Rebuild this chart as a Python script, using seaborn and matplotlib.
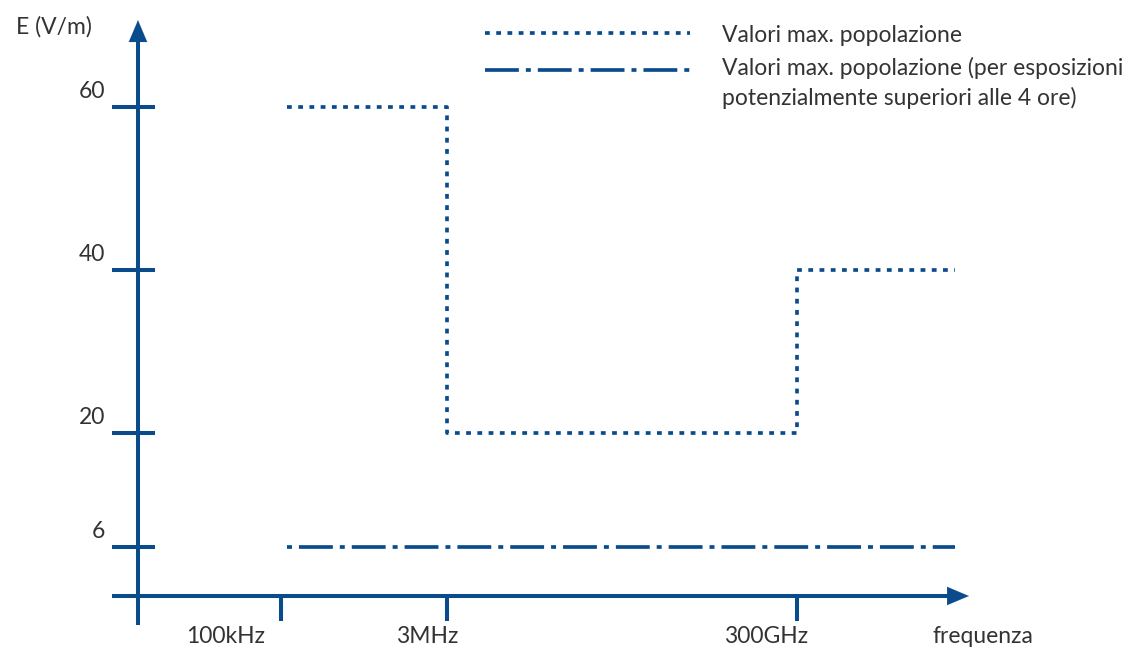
import numpy as np
import pandas as pd
import matplotlib
matplotlib.use("Agg")
import matplotlib.pyplot as plt
import seaborn as sns

# dati
freq_labels = ["100kHz", "3MHz", "300GHz"]
freq_pos = [1.0, 2.161, 4.608]          # posizioni sull'asse (scala non lineare)
x_start, x_end = 1.04, 5.713
y_ticks = [60, 40, 20, 6]

pop_x = [x_start, freq_pos[1], freq_pos[1], freq_pos[2], freq_pos[2], x_end]
pop_y = [60, 60, 20, 20, 40, 40]
lungo_x = [x_start, x_end]
lungo_y = [6, 6]

label_pop = "Valori max. popolazione"
label_lungo = "Valori max. popolazione (per esposizioni\npotenzialmente superiori alle 4 ore)"

blu = "#0a4b8c"
grigio = "#333333"
fs = 16.5

sns.set_theme(style="white")
plt.rcParams['font.family'] = ['Lato', 'DejaVu Sans']

fig = plt.figure(figsize=(11.33, 6.51), dpi=100)
ax = fig.add_axes([0, 0, 1, 1])
ax.set_xlim(-0.965, 6.958)
ax.set_ylim(-6.75, 73.13)
ax.axis('off')

# assi con frecce
ax.plot([-0.18, 5.75], [0, 0], color=blu, lw=2.9, solid_capstyle='butt')
ax.plot([0, 0], [-3.55, 69.5], color=blu, lw=2.9, solid_capstyle='butt')
ax.annotate('', xy=(5.83, 0), xytext=(5.6, 0),
            arrowprops=dict(arrowstyle='-|>,head_length=1.3,head_width=0.55', color=blu, lw=0.1))
ax.annotate('', xy=(0, 71.0), xytext=(0, 68.0),
            arrowprops=dict(arrowstyle='-|>,head_length=1.3,head_width=0.55', color=blu, lw=0.1))

# tacche
for v in y_ticks:
    ax.plot([-0.18, 0.12], [v, v], color=blu, lw=2.9, solid_capstyle='butt')
    ax.text(-0.23, v + 1.95, str(v), ha='right', va='center', fontsize=fs, color=grigio)
for p in freq_pos:
    ax.plot([p, p], [0, -3.1], color=blu, lw=2.9, solid_capstyle='butt')

label_dx = [-0.385, -0.14, -0.215]
for p, lab, dx in zip(freq_pos, freq_labels, label_dx):
    ax.text(p + dx, -4.95, lab, ha='center', va='center', fontsize=fs, color=grigio)
ax.text(5.91, -4.95, "frequenza", ha='center', va='center', fontsize=fs, color=grigio)
ax.text(-0.587, 69.8, "E (V/m)", ha='center', va='center', fontsize=fs, color=grigio)

# serie
dotted = (0, (1.3, 1.75))
dashdot = (0, (9.2, 1.9, 1.35, 1.9))
dashdot_dot_first = (11.1, (9.2, 1.9, 1.35, 1.9))
sns.lineplot(x=pop_x, y=pop_y, sort=False, estimator=None, ax=ax,
             color=blu, lw=2.65, linestyle=dotted)
sns.lineplot(x=lungo_x, y=lungo_y, sort=False, estimator=None, ax=ax,
             color=blu, lw=2.65, linestyle=dashdot_dot_first)

# legenda disegnata a mano
ax.plot([0.428, 0.609], [0.9493, 0.9493], transform=ax.transAxes,
        color=blu, lw=2.65, linestyle=dotted)
ax.plot([0.428, 0.609], [0.8925, 0.8925], transform=ax.transAxes,
        color=blu, lw=2.65, linestyle=dashdot)
ax.text(0.637, 0.945, label_pop, transform=ax.transAxes, ha='left', va='center',
        fontsize=fs, color=grigio)
ax.text(0.637, 0.912, label_lungo, transform=ax.transAxes, ha='left', va='top',
        fontsize=fs, color=grigio, linespacing=1.42)

fig.savefig('out.png', dpi=100)
